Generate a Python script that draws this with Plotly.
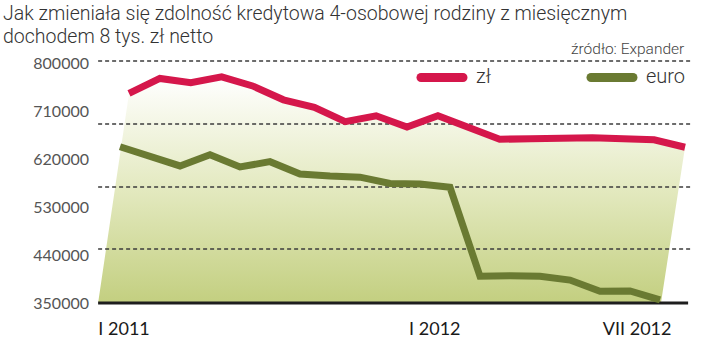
import plotly.graph_objects as go

# ---------------- data ----------------
MONTHS = list(range(19))  # I 2011 ... VII 2012
ZL = [743000, 771000, 763000, 774000, 757000, 731000, 717000, 690000, 701000,
      680000, 701000, 678000, 657000, 658000, 660000, 660000, 658000, 656000, 642000]
EURO = [643000, 624000, 607000, 628000, 605000, 615000, 592000, 588000, 586000,
        574000, 573000, 567000, 400000, 401000, 400000, 393000, 372000, 372500, 356000]
Y_TICKS = [350000, 440000, 530000, 620000, 710000, 800000]
X_TICK_TEXT = ["I 2011", "I 2012", "VII 2012"]
X_TICK_POS = [-0.16, 9.9, 16.45]
GRID_LEVELS = [803750, 685625, 567500, 451250]
BASE = 350000

# ---------------- layout geometry ----------------
W, H = 720, 363
ML, MR, MT, MB = 92, 0, 0, 51
PW, PH = W - ML - MR, H - MT - MB


def paper_x(p):
    return (p - ML) / PW


def paper_y(p):
    return (MT + PH - p) / PH


RED = "#d5174b"
GREEN = "#6a7a32"
FONT = "Roboto"

fig = go.Figure()

# gradient area under the zł line
fig.add_trace(go.Scatter(
    x=MONTHS + [17.22, -1.0], y=ZL + [BASE, BASE],
    mode="none", fill="toself",
    fillgradient=dict(type="vertical",
                      colorscale=[[0, "#c3cf80"], [0.5, "#e3e9bf"], [1, "#ffffff"]]),
    hoverinfo="skip", showlegend=False, xaxis="x", yaxis="y"))

# dashed guide lines
for lv in GRID_LEVELS:
    fig.add_trace(go.Scatter(
        x=[-1.0, 18.23], y=[lv, lv], mode="lines",
        line=dict(color="#3c3c3c", width=1.3, dash="4px,3px"),
        hoverinfo="skip", showlegend=False, xaxis="x", yaxis="y"))

# baseline
fig.add_trace(go.Scatter(
    x=[-1.0, 18.1], y=[BASE, BASE], mode="lines",
    line=dict(color="#1e1e1e", width=3),
    hoverinfo="skip", showlegend=False, xaxis="x", yaxis="y"))

# data lines
fig.add_trace(go.Scatter(x=MONTHS, y=ZL, mode="lines", name="zł",
                         line=dict(color=RED, width=7), showlegend=False,
                         xaxis="x", yaxis="y"))
fig.add_trace(go.Scatter(x=MONTHS, y=EURO, mode="lines", name="euro",
                         line=dict(color=GREEN, width=7), showlegend=False,
                         xaxis="x2", yaxis="y"))

# ---------------- legend drawn by hand ----------------
shapes = []
for cx, col in [(442, RED), (612, GREEN)]:
    common = dict(xref="paper", yref="paper", xsizemode="pixel", ysizemode="pixel",
                  xanchor=paper_x(cx), yanchor=paper_y(77.5),
                  fillcolor=col, line=dict(width=0))
    shapes.append(dict(type="rect", x0=-21, x1=21, y0=-4.5, y1=4.5, **common))
    shapes.append(dict(type="circle", x0=-25.5, x1=-16.5, y0=-4.5, y1=4.5, **common))
    shapes.append(dict(type="circle", x0=16.5, x1=25.5, y0=-4.5, y1=4.5, **common))

annotations = [
    dict(text="Jak zmieniała się zdolność kredytowa 4-osobowej rodziny z miesięcznym",
         x=paper_x(1), y=paper_y(14), xanchor="left", yanchor="middle",
         font=dict(family=FONT, size=19.5, color="#333333", weight=300)),
    dict(text="dochodem 8 tys. zł netto",
         x=paper_x(1), y=paper_y(36), xanchor="left", yanchor="middle",
         font=dict(family=FONT, size=19.5, color="#333333", weight=300)),
    dict(text="źródło: Expander",
         x=paper_x(686), y=paper_y(49), xanchor="right", yanchor="middle",
         font=dict(family=FONT, size=15.5, color="#444444", weight=300)),
    dict(text="zł", x=paper_x(474), y=paper_y(76), xanchor="left", yanchor="middle",
         font=dict(family=FONT, size=20, color="#333333", weight=300)),
    dict(text="euro", x=paper_x(644), y=paper_y(76), xanchor="left", yanchor="middle",
         font=dict(family=FONT, size=20, color="#333333", weight=300)),
]
for a in annotations:
    a.update(xref="paper", yref="paper", showarrow=False)

# axis ranges mapping months / values onto pixels
red_px0, red_step = 129, 30.89
eu_px0, eu_step = 120, 30.0
y_px0, y_per_px = 303, 1875

fig.update_layout(
    width=W, height=H, margin=dict(l=ML, r=MR, t=MT, b=MB),
    paper_bgcolor="white", plot_bgcolor="white",
    showlegend=False, shapes=shapes, annotations=annotations,
    xaxis=dict(range=[(ML - red_px0) / red_step, (W - MR - red_px0) / red_step],
               showgrid=False, zeroline=False, showline=False,
               tickmode="array", tickvals=X_TICK_POS, ticktext=X_TICK_TEXT,
               ticks="", tickfont=dict(family="Lato", size=18, color="#1a1a1a"),
               ticklabelstandoff=4, fixedrange=True),
    xaxis2=dict(range=[(ML - eu_px0) / eu_step, (W - MR - eu_px0) / eu_step],
                overlaying="x", visible=False, fixedrange=True),
    yaxis=dict(range=[BASE - (MT + PH - y_px0) * y_per_px, BASE + (y_px0 - MT) * y_per_px],
               showgrid=False, zeroline=False, showline=False,
               tickmode="array", tickvals=Y_TICKS, ticktext=[str(v) for v in Y_TICKS],
               ticks="", tickfont=dict(family="Lato", size=16, color="#555555"),
               ticklabelstandoff=2, fixedrange=True),
)

fig.write_html("out.html")
